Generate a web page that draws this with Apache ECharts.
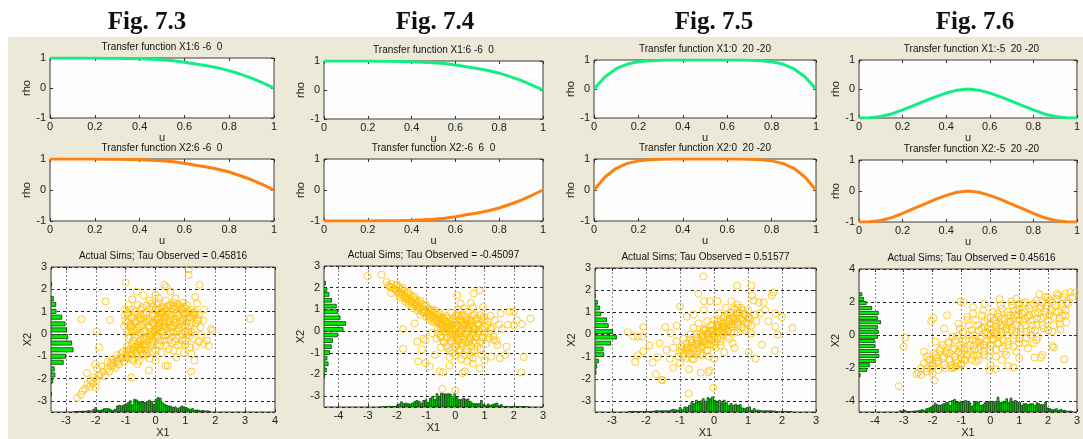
<!DOCTYPE html>
<html>
<head>
<meta charset="utf-8">
<title>Transfer functions and simulated copulas</title>
<script src="https://cdn.jsdelivr.net/npm/echarts@6/dist/echarts.min.js"></script>
<style>
html, body { margin: 0; padding: 0; background: #fff; }
#wrap { position: relative; width: 1083px; height: 439px; overflow: hidden; background: #fff; }
#bg { position: absolute; left: 8px; top: 37px; right: 0; bottom: 0; background: #ece9d8; }
#main { position: absolute; left: 0; top: 0; width: 1083px; height: 439px; }
</style>
</head>
<body>
<div id="wrap"><div id="bg"></div><div id="main"></div></div>
<script>
// ---- transfer functions, rho(u)
const uVals = [0,0.05,0.1,0.15,0.2,0.25,0.3,0.35,0.4,0.45,0.5,0.55,0.6,0.65,0.7,0.75,0.8,0.85,0.9,0.95,1];
const rho6m6 = [1,1,1,1,1,0.995,0.99,0.985,0.975,0.96,0.94,0.91,0.86,0.8,0.74,0.67,0.58,0.46,0.33,0.17,0];
const rhoM66 = [-1,-1,-1,-1,-1,-0.995,-0.99,-0.985,-0.975,-0.96,-0.94,-0.91,-0.86,-0.8,-0.74,-0.67,-0.58,-0.46,-0.33,-0.17,0];
const rho020 = [0,0.42,0.7,0.86,0.94,0.975,0.99,1,1,1,1,1,1,1,0.99,0.975,0.94,0.86,0.7,0.42,0];
const rhoM520 = [-1,-0.99,-0.95,-0.86,-0.72,-0.57,-0.42,-0.27,-0.14,-0.04,0,-0.04,-0.14,-0.27,-0.42,-0.57,-0.72,-0.86,-0.95,-0.99,-1];

// ---- simulated pairs (X1, X2)
const sims73 = [[1.11,2.9],[1.11,2.64],[-1.0,2.3],[1.48,2.2],[0.3,2.2],[0.36,2.1],[-0.63,1.9],[-0.41,1.73],[-0.78,1.55],[-1.67,1.46],[-2.48,0.65],[-1.52,0.63],[3.17,0.68],[-1.97,0.12],[-1.89,-0.6],[-2.02,-1.36],[-0.81,-1.96],[-0.22,-1.63],[0.33,-1.43],[0.41,-1.43],[1.19,-1.69],[1.3,-1.2],[1.33,1.66],[0.67,1.58],[0.92,1.39],[1.0,1.13],[1.39,1.36],[1.63,1.09],[1.53,-0.05],[1.61,-0.45],[1.78,-0.53],[1.72,-0.3],[1.86,0.23],[1.9,0.15],[0.1,1.6],[-0.2,1.5],[0.5,1.9],[0.0,1.75],[1.25,0.95],[1.15,0.75],
[-2.63,-2.87],[-2.5,-2.72],[-2.44,-2.56],[-2.36,-2.45],[-2.28,-2.26],[-2.2,-2.36],[-2.17,-2.1],[-2.1,-2.22],[-2.06,-1.96],[-1.98,-2.06],[-1.9,-1.86],[-1.83,-1.81],[-1.76,-1.7],[-1.7,-1.9],[-1.62,-1.58],[-1.55,-1.68],[-1.5,-1.45],[-1.44,-1.43],[-1.4,-1.3],[-1.35,-1.52],[-1.28,-1.2],[-1.22,-1.36],[-1.18,-1.1],[-1.11,-1.06],[-1.05,-1.25],[-1.0,-0.95],[-0.94,-0.83],[-0.9,-1.1],[-0.85,-0.7],[-0.8,-0.9],[-0.75,-1.2],[-0.7,-0.6],[-0.65,-0.8],[-0.6,-1.0],[-0.55,-0.5],[-0.5,-0.7],[-1.95,-1.55],[-2.3,-1.75],[-1.8,-1.45],[-1.6,-1.25],[-2.0,-2.4],[-1.3,-0.95],[-1.45,-1.15],[-0.95,-0.55],[-1.1,-0.8],[-0.45,-0.9],[-0.35,-0.75],[-0.55,-1.2],
[-1.02,1.09],[-1.03,0.83],[-1.0,0.6],[-1.05,0.35],[-0.95,0.1],[-0.9,-0.2],[-0.85,0.45],[-0.8,0.75],[-0.75,0.2],[-0.7,-0.15],[-0.65,0.55],[-0.6,0.9],[-0.6,0.25],[-0.55,-0.35],[-0.5,0.05],[-0.45,0.4],[-0.45,1.2],[-0.4,0.7],[-0.4,-0.2],[-0.35,0.15],[-0.3,-0.5],[-0.3,0.95],[-0.25,0.35],[-0.2,0.6],[-0.2,-0.1],[-0.15,1.35],[-0.15,0.1],[-0.1,0.8],[-0.1,-0.4],[-0.05,0.45],[0,0.2],[0,1.05],[0.05,-0.15],[0.05,0.65],[0.1,1.4],[0.1,0.35],[0.15,-0.5],[0.15,0.9],[0.2,0.1],[0.2,1.2],[0.25,0.55],[0.3,-0.3],[0.3,0.8],[0.35,1.5],[0.35,0.25],[0.4,1.0],[0.4,-0.05],[0.45,0.6],[0.5,1.3],[0.5,0.3],[0.55,-0.4],[0.55,0.85],[0.6,0.1],[0.65,1.1],[0.65,0.5],[0.7,-0.2],[0.75,0.8],[0.75,0.25],[0.8,1.25],[0.85,-0.5],[0.85,0.55],[0.9,0.0],[0.95,0.95],[1.0,0.35],[1.0,-0.3],[1.05,0.7],[1.1,1.0],[1.1,0.1],[1.15,-0.6],[1.2,0.5],[1.25,0.85],[1.25,-0.2],[1.3,0.2],[1.35,-0.55],[1.4,0.6],[1.45,-0.35],[1.2,-0.9],[0.95,-0.85],[0.6,-0.75],[0.2,-0.85],[-0.1,-0.8],[-0.4,-0.95],[-0.2,-1.1],[0.0,-1.2],[-0.6,-1.35],[0.7,-1.05],[-0.45,-0.45],[-0.35,-0.25],[-0.25,-0.3],[-0.15,-0.05],[-0.05,0.05],[0.05,0.15],[0.15,0.3],[0.25,0.35],[-0.55,-0.6],[-0.65,-0.55],[-0.35,-0.6],[-0.2,-0.25],[0,-0.05],[0.1,0.5],[0.3,0.45],[0.45,0.4],[0.6,0.65],[0.2,0.75],[0,0.6],[-0.3,0.55],[0.4,1.2],[0.7,1.2],[0.2,1.0],[-0.8,0.35],[-0.7,1.0],[-0.9,0.95],[0.5,0.7],[0.8,0.9],[0.9,0.6],[-0.1,1.2],[0.3,1.15],[0.6,1.4],[0.85,1.1],[-0.5,0.85],[1.5,0.3],[1.6,0.6],[1.45,0.85],[1.05,-0.05],
[-0.6,1.3],[-0.3,1.27],[0.05,1.33],[0.45,1.28],[0.75,1.35],[1.05,1.3],[-0.85,1.1],[-0.5,1.08],[-0.2,1.12],[0.1,1.1],[0.35,1.07],[0.55,1.13],[0.9,1.1],[1.2,1.08],[-0.95,0.9],[-0.4,0.88],[-0.05,0.92],[0.25,0.9],[0.45,0.87],[0.7,0.93],[1.0,0.9],[1.3,0.88],[-0.75,0.7],[-0.55,0.72],[-0.25,0.68],[0.1,0.7],[0.35,0.73],[0.65,0.68],[0.95,0.71],[1.2,0.7],[-0.95,0.5],[-0.7,0.48],[-0.35,0.52],[-0.1,0.5],[0.15,0.47],[0.4,0.52],[0.7,0.5],[0.8,0.45],[1.05,0.52],[1.35,0.48],[-0.85,0.3],[-0.55,0.32],[-0.2,0.28],[0.05,0.3],[0.3,0.33],[0.55,0.28],[0.85,0.3],[1.15,0.32],[-0.8,0.1],[-0.4,0.08],[-0.05,0.12],[0.25,0.1],[0.5,0.07],[0.75,0.12],[1.0,0.1],[1.2,0.08],[-0.85,-0.1],[-0.6,-0.08],[-0.3,-0.12],[0.1,-0.1],[0.3,-0.07],[0.55,-0.12],[0.8,-0.1],[1.15,-0.08],[-0.75,-0.3],[-0.5,-0.28],[-0.1,-0.32],[0.15,-0.3],[0.45,-0.27],[0.65,-0.33],[0.9,-0.3],[-0.8,-0.5],[-0.6,-0.48],[-0.4,-0.52],[-0.15,-0.5],[0.05,-0.47],[0.35,-0.52],[0.75,-0.5],[1.0,-0.48],[-0.95,-0.7],[-0.75,-0.72],[-0.55,-0.68],[-0.25,-0.7],[0.0,-0.73],[0.45,-0.68],[-1.15,-0.9],[-0.85,-0.92],[-0.65,-0.88],[-0.3,-0.9],[-1.3,-1.1],[-1.0,-1.08],[-0.8,-1.12],[-1.5,-1.3],[-1.25,-1.28],[-0.9,1.3],[-0.7,0.6],[0.6,1.25],[0.95,1.2],[1.35,1.0],[1.45,0.65],[-0.65,0.15],[-0.5,0.65],[0.2,0.95],[0.6,0.35]];

const sims74 = [[-3.01,2.53],[-2.53,2.6],[-2.36,2.26],[-2.19,2.18],[-2.02,2.11],[-1.79,0.09],[-1.79,-0.82],[-1.3,-0.49],[-1.1,-0.35],[-1.03,-0.42],[-1.28,-1.4],[-1.02,-1.48],[-0.88,-1.63],[-0.54,-1.86],[-0.42,-1.9],[-0.45,-2.66],[0.0,-2.73],[0.24,-1.94],[0.32,-1.86],[0.83,-1.71],[2.26,-1.91],[2.34,-1.2],[2.57,0.58],[2.28,0.32],[2.0,0.27],[1.86,0.89],[2.0,0.89],[1.55,0.81],[0.83,1.88],[0.63,1.73],[0.53,1.3],[0.18,1.27],[0.06,1.65],[0.95,1.11],[0.97,0.66],[1.75,-0.72],[1.44,-0.64],[1.31,-0.41],[1.52,-1.25],[1.23,-1.18],[1.4,-0.45],[1.6,0.1],[1.8,0.3],[2.1,0.5],[1.7,-1.1],[0.6,-1.5],[1.0,-1.35],[-0.2,-1.6],[0.4,-1.4],[-0.7,-1.1],[-1.4,0.35],[-1.15,-0.85],
[-2.3,2.1],[-2.2,2.0],[-2.1,1.95],[-2.0,1.85],[-1.95,2.0],[-1.9,1.8],[-1.85,1.95],[-1.8,1.7],[-1.75,1.85],[-1.7,1.6],[-1.65,1.75],[-1.6,1.5],[-1.55,1.65],[-1.5,1.4],[-1.45,1.55],[-1.4,1.3],[-1.35,1.45],[-1.3,1.2],[-1.25,1.35],[-1.2,1.1],[-1.15,1.25],[-1.1,1.0],[-1.05,1.15],[-1.0,0.9],[-0.95,1.05],[-0.9,0.8],[-0.85,0.95],[-0.8,0.7],[-0.75,0.85],[-0.7,0.6],[-0.65,0.75],[-0.6,0.5],[-0.55,0.65],[-0.5,0.4],[-0.45,0.55],[-0.4,0.3],[-0.35,0.45],[-0.3,0.2],[-0.25,0.35],[-0.2,0.1],[-0.15,0.25],[-0.1,0.0],[-1.6,1.25],[-1.3,0.95],[-1.0,0.65],[-0.8,0.45],[-1.9,1.55],[-2.2,1.75],[-1.2,0.75],[-0.9,0.55],[-0.7,0.95],[-0.55,0.85],[-1.45,1.05],[-1.7,1.35],
[-0.6,0.1],[-0.5,-0.2],[-0.45,0.2],[-0.4,-0.5],[-0.35,0.0],[-0.3,-0.3],[-0.3,0.6],[-0.25,-0.8],[-0.2,-0.15],[-0.2,0.45],[-0.15,-0.45],[-0.1,0.3],[-0.1,-1.0],[-0.05,-0.25],[0,0.15],[0,-0.6],[0.05,0.5],[0.05,-0.1],[0.1,-0.4],[0.1,0.25],[0.15,-0.85],[0.15,0.0],[0.2,0.4],[0.2,-0.25],[0.25,0.7],[0.25,-0.55],[0.3,0.1],[0.3,-1.1],[0.35,-0.15],[0.35,0.35],[0.4,0.9],[0.4,-0.7],[0.45,0.0],[0.5,0.5],[0.5,-0.35],[0.55,-1.0],[0.6,0.2],[0.6,-0.2],[0.65,0.75],[0.7,-0.55],[0.75,0.35],[0.8,0.0],[0.85,-0.85],[0.9,0.55],[0.95,-0.3],[1.0,0.2],[1.05,-0.6],[1.1,0.45],[1.15,-0.1],[1.2,0.7],[1.25,0.15],[0.0,0.7],[-0.15,0.85],[0.1,1.0],[0.3,1.05],[0.6,1.1],[-0.5,-0.75],[-0.2,-1.2],[0.2,-1.3],[0.6,-1.25],[0.9,-1.1],[-0.05,0.4],[0.15,0.6],[0.4,0.15],[0.55,0.45],[0.7,0.1],[0.25,0.25],[-0.25,0.2],[0.05,-0.35],[0.3,-0.4],[0.45,-0.5],[0.65,-0.05],[0.8,0.25],[1.35,0.5],[1.5,0.3],[-0.65,-0.35],[-0.8,-0.1],[0.5,0.25],[0.35,0.55],[0.1,0.75],[0.75,0.6],[1.3,-0.25],[-0.4,0.6],[0.0,-0.15],
[-2.25,2.05],[-2.05,1.9],[-1.95,1.75],[-1.85,1.65],[-1.75,1.55],[-1.65,1.45],[-1.55,1.35],[-1.45,1.25],[-1.35,1.15],[-1.25,1.05],[-1.15,0.95],[-1.05,0.85],[-0.95,0.75],[-0.85,0.65],[-0.75,0.55],[-0.65,0.45],[-0.55,0.35],[-0.45,0.25],[-0.35,0.15],[-0.25,0.05],[-1.8,2.0],[-1.6,1.8],[-1.4,1.6],[-1.2,1.4],[-1.0,1.2],[-0.8,1.0],[-0.6,0.8],[-1.5,1.15],[-1.1,0.85],[-0.7,0.4],[-2.0,2.15],[-1.7,1.5],[-1.3,1.3],[-0.9,0.95],[-0.5,0.6],
[-0.3,0.7],[0.05,0.72],[0.35,0.68],[0.6,0.7],[0.85,0.73],[-0.4,0.5],[-0.1,0.52],[0.2,0.48],[0.4,0.5],[0.7,0.53],[1.0,0.5],[-0.5,0.3],[-0.2,0.32],[0.05,0.28],[0.3,0.3],[0.5,0.33],[0.8,0.3],[1.1,0.28],[-0.5,0.1],[-0.2,0.12],[0.0,0.08],[0.2,0.1],[0.45,0.12],[0.65,0.08],[0.9,0.1],[1.2,0.12],[-0.6,-0.1],[-0.35,-0.08],[-0.1,-0.12],[0.15,-0.1],[0.35,-0.08],[0.55,-0.12],[0.75,-0.1],[1.0,-0.08],[-0.5,-0.3],[-0.15,-0.32],[0.1,-0.28],[0.3,-0.3],[0.5,-0.32],[0.7,-0.28],[0.9,-0.3],[1.15,-0.32],[-0.4,-0.5],[-0.1,-0.52],[0.1,-0.48],[0.35,-0.5],[0.6,-0.52],[0.85,-0.48],[-0.3,-0.7],[0.0,-0.72],[0.25,-0.68],[0.55,-0.7],[0.75,-0.72],[-0.2,-0.9],[0.1,-0.92],[0.4,-0.88],[0.65,-0.9],[0.0,-1.1],[0.5,-1.12]];

const sims75 = [[-0.31,2.62],[0.68,2.2],[1.1,2.2],[-0.46,1.83],[1.74,1.9],[1.7,1.75],[-1.0,1.26],[-0.29,1.5],[-0.12,1.5],[0.1,1.5],[0.51,1.5],[1.12,1.75],[1.17,1.53],[1.32,1.45],[1.46,1.45],[-2.54,0.1],[-2.37,-0.09],[-2.24,-0.09],[-2.08,0.33],[-2.12,-0.09],[-2.32,-1.24],[-2.24,-0.94],[-2.08,-0.76],[-1.8,-1.27],[-1.66,-1.02],[-1.71,-1.8],[-1.51,-2.07],[-1.54,-2.05],[-1.43,0.33],[-1.27,0.06],[-0.75,-2.67],[-0.02,-2.4],[-0.13,-1.62],[-0.17,-1.7],[-0.39,-1.72],[-0.73,-1.57],[2.31,0.3],[1.79,-0.72],[1.87,0.0],[1.22,-1.09],[1.02,-0.79],[1.41,-0.46],[2.0,0.78],[1.8,0.95],[1.6,0.6],[1.8,0.35],[1.5,1.1],[-1.6,-0.4],[-1.9,-0.5],[-1.4,-0.7],[-1.2,-1.5],[-1.0,-1.3],[-1.3,-1.1],[0.3,-0.8],[0.6,-0.6],[0.0,-1.1],[-0.8,0.8],[-0.6,0.9],[-1.1,0.4],[-0.3,1.1],
[-1.0,-0.8],[-0.95,-0.55],[-0.9,-1.0],[-0.85,-0.7],[-0.8,-0.4],[-0.75,-0.85],[-0.7,-0.6],[-0.65,-0.3],[-0.6,-0.75],[-0.55,-0.45],[-0.5,-0.15],[-0.5,-0.9],[-0.45,-0.6],[-0.4,-0.3],[-0.4,0.05],[-0.35,-0.5],[-0.3,-0.15],[-0.3,0.25],[-0.25,-0.4],[-0.2,0.0],[-0.2,-0.7],[-0.15,-0.2],[-0.1,0.15],[-0.1,-0.45],[-0.05,0.4],[0,-0.1],[0,0.2],[0.05,-0.35],[0.1,0.05],[0.1,0.45],[0.15,0.25],[0.2,-0.15],[0.2,0.6],[0.25,0.35],[0.3,0.1],[0.3,0.75],[0.35,0.5],[0.4,0.25],[0.4,0.9],[0.45,0.6],[0.5,0.35],[0.5,1.0],[0.55,0.7],[0.6,0.45],[0.6,1.15],[0.65,0.85],[0.7,0.55],[0.75,1.0],[0.8,0.7],[0.85,0.3],[0.9,0.9],[0.95,0.55],[1.0,1.1],[1.05,0.75],[1.1,0.4],[1.2,0.9],[1.25,0.6],[1.35,0.95],[-0.7,0.0],[-0.9,-0.2],[-1.1,-0.3],[-1.2,-0.6],[-0.6,0.3],[-0.45,0.5],[-0.2,0.6],[0.0,0.65],[0.15,0.95],[0.35,1.2],[0.2,-0.5],[0.45,-0.2],[0.7,0.1],[0.9,0.2],[1.1,0.05],[0.55,-0.4],[-0.25,0.2],[0.05,-0.6],[-0.35,-0.95],[-0.65,-1.1],[-0.15,0.05],[0.05,0.1],[0.25,0.2],[-0.05,-0.25],[0.15,0.4],[0.35,0.3],[-0.3,-0.3],[-0.5,-0.4],[0.45,0.45],[0.65,0.7],[0.8,1.2],[1.0,0.8],[-0.8,-0.6],[-1.05,-1.0],[0.7,1.35],[-0.15,-1.0],
[-0.9,-0.88],[-0.75,-0.72],[-0.6,-0.62],[-0.45,-0.43],[-0.3,-0.32],[-0.15,-0.12],[0,0.02],[0.15,0.14],[0.3,0.33],[0.45,0.44],[0.6,0.62],[0.75,0.73],[0.9,0.93],[-0.95,-0.68],[-0.8,-0.57],[-0.65,-0.38],[-0.5,-0.27],[-0.35,-0.08],[-0.2,0.07],[-0.05,0.18],[0.1,0.37],[0.25,0.48],[0.4,0.67],[0.55,0.78],[0.7,0.97],[0.85,1.08],[-0.8,-1.07],[-0.65,-0.88],[-0.5,-0.77],[-0.35,-0.58],[-0.2,-0.47],[-0.05,-0.28],[0.1,-0.17],[0.25,0.02],[0.4,0.13],[0.55,0.32],[0.7,0.43],[0.85,0.62],[1.0,0.73],[-0.7,-0.22],[-0.5,0.02],[-0.3,0.18],[-0.1,0.42],[0.1,0.58],[0.3,0.82],[0.5,0.98],[0.7,1.22],[-0.6,-1.12],[-0.4,-0.88],[-0.2,-0.72],[0.0,-0.48],[0.2,-0.32],[0.4,-0.08],[0.6,0.08],[0.8,0.32],[1.0,0.48]];

const sims76 = [[-3.17,-3.09],[-3.0,-0.7],[-2.95,-0.16],[-2.55,-2.36],[-2.5,-2.25],[-2.4,-2.4],[-1.94,-2.75],[-2.05,0.84],[-1.96,1.04],[-1.04,2.04],[-0.93,1.98],[0.32,2.18],[0.73,2.04],[1.7,2.47],[2.3,2.5],[2.77,2.6],[2.93,2.57],[2.63,0.78],[2.43,0.34],[2.15,-0.66],[2.2,-0.75],[2.56,-1.46],[1.53,-1.36],[1.8,-1.2],[1.75,-1.35],[0.81,-1.96],[0.62,-1.85],[-0.03,-2.12],[0.19,-2.06],[-1.27,-1.96],[-1.0,-1.75],[-2.2,-1.3],[-1.6,0.4],[-1.5,1.2],[-0.6,1.7],[-0.2,1.9],[0.9,2.2],[1.2,2.0],[2.5,1.2],[2.7,1.9],[2.85,2.3],[1.0,-1.4],[-0.5,-1.6],
[-2.3,-1.7],[-2.2,-2.0],[-2.1,-1.5],[-2.0,-1.9],[-1.9,-1.2],[-1.85,-1.6],[-1.8,-2.1],[-1.7,-0.8],[-1.65,-1.4],[-1.6,-1.8],[-1.5,-1.1],[-1.45,-0.5],[-1.4,-1.5],[-1.35,-2.0],[-1.3,-0.9],[-1.25,-1.3],[-1.2,-0.3],[-1.15,-1.7],[-1.1,-1.0],[-1.05,-0.6],[-1.0,-1.4],[-0.95,0.2],[-0.9,-0.9],[-0.85,-0.3],[-0.8,-1.2],[-0.75,0.6],[-0.7,-0.6],[-0.65,-1.5],[-0.6,0.0],[-0.55,-0.9],[-0.5,0.9],[-0.5,-0.4],[-0.45,-1.2],[-0.4,0.3],[-0.35,-0.7],[-0.3,1.2],[-0.3,-0.1],[-0.25,-1.0],[-0.2,0.5],[-0.15,-0.4],[-0.1,1.0],[-0.1,0.1],[-0.05,-1.3],[0,0.7],[0,-0.6],[0.05,0.3],[0.1,1.4],[0.1,-0.2],[0.15,0.9],[0.2,-0.9],[0.2,0.5],[0.25,0.0],[0.3,1.1],[0.3,-0.5],[0.35,0.6],[0.4,1.6],[0.4,0.2],[0.45,-0.3],[0.5,1.0],[0.5,-1.0],[0.55,0.4],[0.6,1.4],[0.6,0.0],[0.65,-0.6],[0.7,0.8],[0.75,1.8],[0.75,0.3],[0.8,-0.2],[0.85,1.2],[0.9,0.6],[0.95,1.6],[1.0,-0.5],[1.0,0.9],[1.05,0.2],[1.1,1.3],[1.15,1.9],[1.2,0.6],[1.25,-0.2],[1.3,1.1],[1.35,1.6],[1.4,0.3],[1.45,0.9],[1.5,1.9],[1.55,1.3],[1.6,0.6],[1.65,-0.1],[1.7,1.6],[1.75,1.0],[1.8,2.0],[1.85,0.4],[1.9,1.4],[1.95,1.8],[2.0,0.9],[2.05,2.1],[2.1,1.5],[2.15,0.2],[2.2,1.1],[2.25,1.8],[2.3,2.2],[2.35,1.4],[2.4,0.7],[2.5,1.7],[2.55,2.3],[2.6,1.5],[-1.9,-0.4],[-2.3,-1.0],[-2.4,-2.0],[-1.1,0.7],[-0.8,1.1],[-1.3,-0.1],[0.0,-1.8],[0.4,-1.5],[0.9,-1.0],[1.3,-0.8],[1.5,-0.5],[-0.3,0.4],[0.2,0.2],[0.6,0.6],[-0.6,-0.3],[-1.0,-0.8],[0.9,0.2],[1.2,1.0],[-0.2,-0.6],[0.3,0.8],[-0.7,-1.0],[1.6,1.0],[-1.55,-1.0],[-0.4,-0.4],[0.0,0.0],[0.7,1.2],[1.0,1.5],[-0.9,-1.5],[-2.0,-2.3],[1.9,2.3],
[-2.2,-2.2],[-2.15,-1.5],[-2.0,-1.7],[-1.95,-1.1],[-2.05,-2.05],[-1.8,-1.6],[-1.75,-0.9],[-1.85,-1.35],[-1.6,-1.3],[-1.55,-2.0],[-1.65,-0.6],[-1.4,-1.1],[-1.35,-1.8],[-1.45,-0.4],[-1.2,-1.5],[-1.25,-0.8],[-1.15,-0.05],[-1.2,-1.9],[-1.0,-1.1],[-0.95,-0.4],[-1.05,0.4],[-1.0,-1.8],[-0.8,-0.8],[-0.85,-1.5],[-0.75,0.0],[-0.8,0.9],[-0.6,-1.2],[-0.55,-0.6],[-0.65,0.3],[-0.6,1.3],[-0.4,-0.9],[-0.35,-0.2],[-0.45,0.6],[-0.4,-1.5],[-0.2,-1.2],[-0.25,-0.6],[-0.15,0.2],[-0.2,0.8],[-0.25,1.5],[0.0,-0.9],[0.05,-0.3],[-0.05,0.4],[0.0,1.1],[0.2,-1.3],[0.25,-0.5],[0.15,0.1],[0.2,0.7],[0.25,1.3],[0.4,-0.8],[0.35,0.0],[0.45,0.5],[0.4,1.0],[0.35,1.8],[0.6,-0.4],[0.55,0.3],[0.65,0.8],[0.6,1.2],[0.55,-1.2],[0.8,-0.7],[0.85,0.0],[0.75,0.5],[0.8,1.0],[0.85,1.5],[1.0,-0.2],[1.05,0.4],[0.95,1.2],[1.0,1.9],[1.2,-0.5],[1.25,0.2],[1.15,0.8],[1.2,1.4],[1.4,0.0],[1.45,0.6],[1.35,1.2],[1.4,1.8],[1.6,-0.3],[1.55,0.3],[1.65,1.4],[1.6,2.1],[1.8,0.6],[1.85,1.1],[1.75,1.7],[2.0,0.3],[2.05,1.2],[1.95,1.6],[2.0,2.3],[2.2,0.6],[2.25,1.4],[2.15,2.0],[2.4,1.0],[2.45,1.9],[2.35,2.4],[2.6,1.2],[2.65,2.0],[2.6,2.5]];

// ---- marginal histograms: X1 along the bottom (first bin centre, bin step, bar heights)
const x1Start73 = -2.72, x1Step73 = 0.072;
const x1Hist73 = [0.02,0.02,0.03,0.02,0.04,0.03,0.05,0.06,0.04,0.12,0.2,0.08,0.07,0.1,0.15,0.15,0.15,0.1,0.07,0.12,0.27,0.3,0.27,0.32,0.35,0.42,0.5,0.32,0.57,0.54,0.47,0.45,0.45,0.42,0.47,0.53,0.47,0.35,0.57,0.65,0.62,0.42,0.35,0.3,0.27,0.26,0.2,0.23,0.15,0.2,0.27,0.23,0.2,0.15,0.12,0.15,0.08,0.09,0.08,0.05,0.07,0.04,0.05,0.03];
const x1Start74 = -2.53, x1Step74 = 0.076;
const x1Hist74 = [0.01,0.02,0.01,0.02,0.03,0.02,0.03,0.06,0.14,0.24,0.15,0.18,0.15,0.14,0.18,0.26,0.3,0.26,0.18,0.3,0.33,0.21,0.4,0.49,0.34,0.61,0.49,0.64,0.61,0.6,0.61,0.6,0.41,0.64,0.44,0.34,0.34,0.41,0.34,0.37,0.26,0.18,0.15,0.15,0.15,0.3,0.11,0.06,0.14,0.08,0.11,0.15,0.18,0.06,0.11,0.01,0.03,0.02,0.01,0.02,0.01,0.02,0.01,0.01,0.02,0.01,0.01];
const x1Start75 = -2.49, x1Step75 = 0.068;
const x1Hist75 = [0.03,0.02,0.03,0.02,0.01,0.02,0.01,0.02,0.01,0.02,0.03,0.05,0.06,0.05,0.06,0.05,0.06,0.05,0.09,0.12,0.1,0.08,0.2,0.11,0.23,0.2,0.3,0.42,0.38,0.53,0.42,0.5,0.6,0.48,0.65,0.6,0.68,0.53,0.48,0.53,0.41,0.53,0.42,0.3,0.38,0.3,0.35,0.3,0.33,0.18,0.15,0.2,0.23,0.08,0.15,0.08,0.08,0.06,0.05,0.06,0.05,0.06,0.05,0.04,0.02,0.01,0.01,0.02,0.03,0.01,0.02];
const x1Start76 = -3.11, x1Step76 = 0.075;
const x1Hist76 = [0.08,0.06,0.1,0.02,0.02,0.03,0.06,0.06,0.08,0.1,0.14,0.1,0.2,0.24,0.3,0.4,0.54,0.44,0.4,0.44,0.5,0.56,0.6,0.4,0.7,0.76,0.6,0.6,0.64,0.6,0.7,0.64,0.56,0.36,0.56,0.64,0.6,0.4,0.44,0.56,0.56,0.64,0.64,0.56,0.64,0.9,0.56,0.6,0.64,0.8,0.56,0.84,0.64,0.7,0.56,0.6,0.4,0.5,0.5,0.44,0.5,0.5,0.4,0.56,0.5,0.44,0.44,0.6,0.24,0.2,0.14,0.14,0.2,0.1,0.16,0.1,0.1,0.04,0.06,0.04];

// X2 along the left side (bin centres, bar lengths, bin step)
const x2Bins73 = [2.22,1.58,1.33,1.01,0.75,0.45,0.18,-0.12,-0.41,-0.71,-1.0,-1.27,-1.57,-1.84,-2.11,-2.7];
const x2Hist73 = [0.02,0.08,0.16,0.17,0.36,0.47,0.52,0.56,0.69,0.74,0.49,0.41,0.11,0.13,0.06,0.01];
const x2Bins74 = [2.21,1.92,1.69,1.42,1.15,0.89,0.61,0.35,0.08,-0.18,-0.44,-0.72,-0.99,-1.25,-1.51,-1.79,-2.05];
const x2Hist74 = [0.05,0.1,0.17,0.26,0.42,0.47,0.55,0.74,0.65,0.46,0.29,0.25,0.19,0.1,0.14,0.08,0.02];
const x2Bins75 = [1.75,1.45,1.2,0.93,0.66,0.4,0.13,-0.12,-0.39,-0.66,-0.91,-1.2,-1.44,-1.71];
const x2Hist75 = [0.01,0.07,0.13,0.17,0.34,0.39,0.52,0.63,0.46,0.24,0.26,0.1,0.05,0.03];
const x2Bins76 = [2.47,2.18,1.94,1.64,1.34,1.04,0.78,0.48,0.2,-0.1,-0.36,-0.66,-0.96,-1.26,-1.56,-1.82,-2.1,-2.42];
const x2Hist76 = [0.1,0.16,0.25,0.44,0.67,0.64,0.75,0.64,0.67,0.64,0.53,0.55,0.67,0.69,0.56,0.36,0.27,0.04];
const x2Step = [0.285, 0.267, 0.266, 0.29];

const figNames = ['Fig. 7.3', 'Fig. 7.4', 'Fig. 7.5', 'Fig. 7.6'];
const tfTitles1 = ['Transfer function X1:6 -6  0', 'Transfer function X1:6 -6  0', 'Transfer function X1:0  20 -20', 'Transfer function X1:-5  20 -20'];
const tfTitles2 = ['Transfer function X2:6 -6  0', 'Transfer function X2:-6  6  0', 'Transfer function X2:0  20 -20', 'Transfer function X2:-5  20 -20'];
const tauTitles = ['Actual Sims; Tau Observed = 0.45816', 'Actual Sims; Tau Observed = -0.45097', 'Actual Sims; Tau Observed = 0.51577', 'Actual Sims; Tau Observed = 0.45616'];

// which arrays go in which panel
const panels = [
  {r1: rho6m6, r2: rho6m6, pts: sims73, xr: [-3.5, 4], yr: [-3.5, 3], ystep: 1,
   h1: x1Hist73, h1s: x1Start73, h1d: x1Step73, hb: x2Bins73, h2: x2Hist73},
  {r1: rho6m6, r2: rhoM66, pts: sims74, xr: [-4.5, 3], yr: [-3.5, 3], ystep: 1,
   h1: x1Hist74, h1s: x1Start74, h1d: x1Step74, hb: x2Bins74, h2: x2Hist74},
  {r1: rho020, r2: rho020, pts: sims75, xr: [-3.5, 3], yr: [-3.5, 3], ystep: 1,
   h1: x1Hist75, h1s: x1Start75, h1d: x1Step75, hb: x2Bins75, h2: x2Hist75},
  {r1: rhoM520, r2: rhoM520, pts: sims76, xr: [-4.55, 3], yr: [-4.65, 4], ystep: 2,
   h1: x1Hist76, h1s: x1Start76, h1d: x1Step76, hb: x2Bins76, h2: x2Hist76}
];

// pixel boxes [left, top, width, height] of each sub plot
const boxes = [
  {fx: 147, top: [50, 58, 224, 60], mid: [50, 159, 224, 62], sc: [51, 267, 224, 145]},
  {fx: 435, top: [324, 61, 219, 58], mid: [324, 159, 219, 62], sc: [324, 266, 219, 141]},
  {fx: 714, top: [594, 60, 222, 58], mid: [594, 159, 222, 62], sc: [595, 268, 221, 144]},
  {fx: 975, top: [859, 60, 225, 58], mid: [859, 160, 225, 62], sc: [859, 269, 225, 144]}
];

const FONT = '"Liberation Sans", Arial, sans-serif';
const INK = '#1c1c1c';
const GREEN = '#14ee80';
const ORANGE = '#ff8010';

const grids = [], xAxes = [], yAxes = [], series = [], texts = [];

function label(txt, x, y, size, font, weight) {
  texts.push({
    type: 'text', x: x, y: y, silent: true,
    style: {text: txt, fill: '#111', font: (weight || 'normal') + ' ' + size + 'px ' + (font || FONT),
            align: 'center', verticalAlign: 'middle', textAlign: 'center', textVerticalAlign: 'middle'}
  });
}

function axis(gi, pos, min, max, step, o) {
  const main = pos === 'bottom' || pos === 'left';
  const vertical = pos === 'left' || pos === 'right';
  return {
    gridIndex: gi, type: 'value', position: pos, min: min, max: max,
    minInterval: step, maxInterval: step, splitNumber: 8,
    axisLine: {show: false, onZero: false},
    axisTick: {show: true, inside: true, length: 3, lineStyle: {color: '#333'}},
    axisLabel: {show: main, fontSize: 11, color: INK, fontFamily: FONT,
                margin: vertical ? 4 : 3, showMinLabel: o.showMin !== false, showMaxLabel: true},
    splitLine: (main && o.split) ? {show: true, lineStyle: o.split} : {show: false},
    name: main ? o.name : '', nameLocation: 'middle', nameGap: o.gap || 15,
    nameRotate: vertical ? 90 : 0,
    nameTextStyle: {fontSize: 11, color: INK, fontFamily: FONT}
  };
}

function addPlot(box, xo, yo) {
  grids.push({left: box[0], top: box[1], width: box[2], height: box[3], show: true,
              backgroundColor: '#fdfdfd', borderColor: '#3c3c3c', borderWidth: 1});
  const gi = grids.length - 1;
  xAxes.push(axis(gi, 'bottom', xo.min, xo.max, xo.step, xo));
  const xi = xAxes.length - 1;
  xAxes.push(axis(gi, 'top', xo.min, xo.max, xo.step, {}));
  yAxes.push(axis(gi, 'left', yo.min, yo.max, yo.step, yo));
  const yi = yAxes.length - 1;
  yAxes.push(axis(gi, 'right', yo.min, yo.max, yo.step, {}));
  return {xi: xi, yi: yi};
}

function curve(box, vals, color, title) {
  const ax = addPlot(box, {min: 0, max: 1, step: 0.2, name: 'u', gap: 13},
                          {min: -1, max: 1, step: 1, name: 'rho', gap: 16});
  series.push({
    type: 'line', xAxisIndex: ax.xi, yAxisIndex: ax.yi, silent: true,
    data: uVals.map((u, i) => [u, vals[i]]),
    showSymbol: false, symbol: 'none', lineStyle: {color: color, width: 3}
  });
  label(title, box[0] + box[2] / 2, box[1] - 11, 10);
}

function drawRect(params, api) {
  const a = api.coord([api.value(0), api.value(2)]);
  const b = api.coord([api.value(1), api.value(3)]);
  return {
    type: 'rect',
    shape: {x: Math.min(a[0], b[0]), y: Math.min(a[1], b[1]),
            width: Math.abs(b[0] - a[0]), height: Math.abs(b[1] - a[1])},
    style: {fill: '#00ee00', stroke: '#0b3a0b', lineWidth: 0.8}
  };
}

panels.forEach((p, k) => {
  const b = boxes[k];
  label(figNames[k], b.fx, 23, 25, '"Liberation Serif", "Times New Roman", serif', 'bold');
  curve(b.top, p.r1, GREEN, tfTitles1[k]);
  curve(b.mid, p.r2, ORANGE, tfTitles2[k]);

  const ax = addPlot(b.sc,
    {min: p.xr[0], max: p.xr[1], step: 1, name: 'X1', gap: 15, showMin: false,
     split: {color: '#8a8a8a', type: [2, 2], width: 1}},
    {min: p.yr[0], max: p.yr[1], step: p.ystep, name: 'X2', gap: 16, showMin: false,
     split: {color: '#262626', type: [3, 3], width: 1}});
  label(tauTitles[k], b.sc[0] + b.sc[2] / 2, b.sc[1] - 11, 10);

  series.push({
    type: 'scatter', xAxisIndex: ax.xi, yAxisIndex: ax.yi, silent: true,
    data: p.pts, symbol: 'circle', symbolSize: 7,
    itemStyle: {color: 'rgba(255,255,255,0)', borderColor: '#ffbf00', borderWidth: 1}
  });

  // X1 histogram, bars rising from the bottom of the axes
  const w1 = p.h1d * 0.8;
  series.push({
    type: 'custom', xAxisIndex: ax.xi, yAxisIndex: ax.yi, silent: true, clip: true,
    encode: {x: [0, 1], y: [2, 3]},
    data: p.h1.map((h, i) => {
      const c = p.h1s + i * p.h1d;
      return [c - w1 / 2, c + w1 / 2, p.yr[0], p.yr[0] + h];
    }),
    renderItem: drawRect
  });
  // X2 histogram, bars growing from the left edge
  const w2 = x2Step[k] * 0.65;
  series.push({
    type: 'custom', xAxisIndex: ax.xi, yAxisIndex: ax.yi, silent: true, clip: true,
    encode: {x: [0, 1], y: [2, 3]},
    data: p.h2.map((h, i) => [p.xr[0], p.xr[0] + h, p.hb[i] - w2 / 2, p.hb[i] + w2 / 2]),
    renderItem: drawRect
  });
});

const chart = echarts.init(document.getElementById('main'), null, {renderer: 'canvas'});
chart.setOption({
  animation: false,
  backgroundColor: 'transparent',
  grid: grids,
  xAxis: xAxes,
  yAxis: yAxes,
  series: series,
  graphic: {elements: texts}
});
</script>
</body>
</html>
